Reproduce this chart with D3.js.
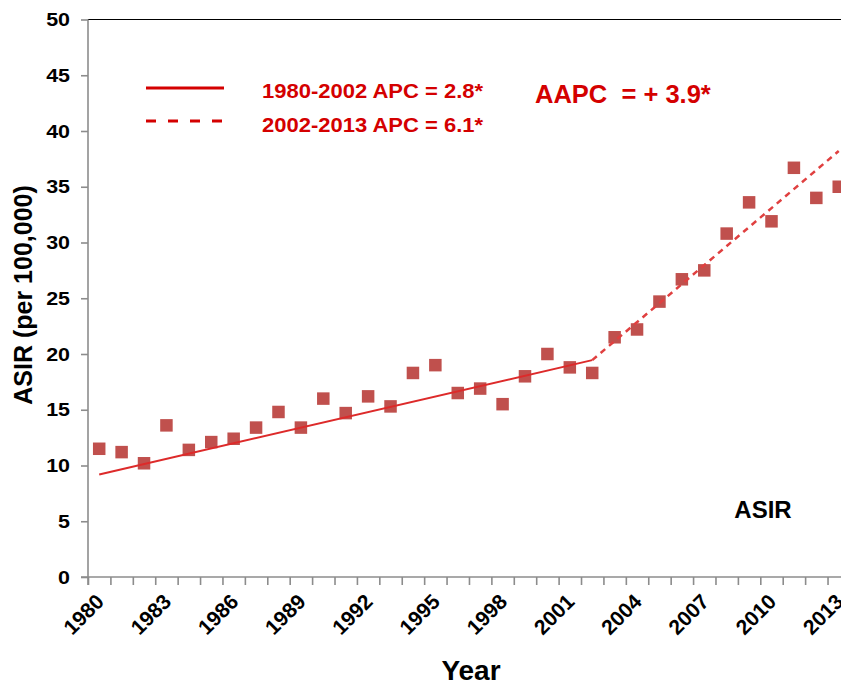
<!DOCTYPE html>
<html>
<head>
<meta charset="utf-8">
<script src="https://cdn.jsdelivr.net/npm/d3@7"></script>
<style>
  html, body { margin: 0; padding: 0; background: #fff; }
  svg { display: block; font-family: "Liberation Sans", Arial, sans-serif; }
</style>
</head>
<body>
<svg id="chart" width="841" height="684"></svg>
<script>
// ---- data ----
const years = [1980, 1981, 1982, 1983, 1984, 1985, 1986, 1987, 1988, 1989,
               1990, 1991, 1992, 1993, 1994, 1995, 1996, 1997, 1998, 1999,
               2000, 2001, 2002, 2003, 2004, 2005, 2006, 2007, 2008, 2009,
               2010, 2011, 2012, 2013];
const asir = [11.5, 11.2, 10.2, 13.6, 11.4, 12.1, 12.4, 13.4, 14.8, 13.4,
              16.0, 14.7, 16.2, 15.3, 18.3, 19.0, 16.5, 16.9, 15.5, 18.0,
              20.0, 18.8, 18.3, 21.5, 22.2, 24.7, 26.7, 27.5, 30.8, 33.6,
              31.9, 36.7, 34.0, 35.0];
const trend1Years = [1980, 2002];
const trend1Values = [9.2, 19.45];
const trend2Years = [2002, 2013];
const trend2Values = [19.45, 38.2];
const xTickLabels = [1980, 1983, 1986, 1989, 1992, 1995, 1998, 2001, 2004, 2007, 2010, 2013];
const yTicks = [0, 5, 10, 15, 20, 25, 30, 35, 40, 45, 50];
const legendLabels = ["1980-2002 APC = 2.8*", "2002-2013 APC = 6.1*"];
const aapcLabel = "AAPC  = + 3.9*";

(function () {
// ---- layout ----
const svg = d3.select("#chart");
const mLeft = 88, mTop = 19.5, mBottom = 577;
const step = 22.41;
const mRight = mLeft + step * years.length;

const x = d3.scaleLinear().domain([years[0] - 0.5, years[years.length - 1] + 0.5]).range([mLeft, mRight]);
const y = d3.scaleLinear().domain([0, 50]).range([mBottom, mTop]);

const axisColor = "#8c8c8c";

// top border
svg.append("line").attr("x1", mLeft).attr("x2", mRight).attr("y1", mTop).attr("y2", mTop)
  .attr("stroke", "#000").attr("stroke-width", 1.2);

// y axis
const ySx = 1.13;
const yAxis = d3.axisLeft(y).tickValues(yTicks).tickSize(7).tickPadding(11).tickFormat(d3.format("d"));
const gy = svg.append("g").attr("transform", `translate(${mLeft},0)`).call(yAxis);
gy.select(".domain").attr("stroke", axisColor).attr("stroke-width", 1.6)
  .attr("d", `M0,${mTop}V${mBottom + 8}`);
gy.selectAll(".tick line").attr("stroke", axisColor).attr("stroke-width", 1.6);
gy.selectAll(".tick text").attr("font-size", 19).attr("font-weight", "bold").attr("fill", "#000")
  .attr("font-family", "Liberation Sans, Arial, sans-serif")
  .attr("x", -18 / ySx).attr("transform", `scale(${ySx},1)`);

// x axis ticks at category boundaries
const boundaries = years.map(d => d - 0.5).concat([years[years.length - 1] + 0.5]);
const xAxis = d3.axisBottom(x).tickValues(boundaries).tickSize(8).tickFormat("");
const gx = svg.append("g").attr("transform", `translate(0,${mBottom})`).call(xAxis);
gx.select(".domain").attr("stroke", axisColor).attr("stroke-width", 1.6)
  .attr("d", `M${mLeft - 7},0H${mRight}`);
gx.selectAll(".tick line").attr("stroke", axisColor).attr("stroke-width", 1.6);

// x tick labels (rotated)
svg.append("g").selectAll("text").data(xTickLabels).join("text")
  .attr("transform", d => `translate(${x(d) + 6},${mBottom + 26}) rotate(-45)`)
  .attr("text-anchor", "end")
  .attr("font-size", 21).attr("font-weight", "bold").attr("fill", "#000")
  .text(d => d);

// markers
const sq = 12.5;
svg.append("g").selectAll("rect").data(years).join("rect")
  .attr("x", (d) => x(d) - sq / 2)
  .attr("y", (d, i) => y(asir[i]) - sq / 2)
  .attr("width", sq).attr("height", sq)
  .attr("fill", "#c0504d");

// trend lines
const line = d3.line().x(d => x(d[0])).y(d => y(d[1]));
svg.append("path").datum(trend1Years.map((d, i) => [d, trend1Values[i]]))
  .attr("d", line).attr("fill", "none").attr("stroke", "#dd2a2a").attr("stroke-width", 2);
svg.append("path").datum(trend2Years.map((d, i) => [d, trend2Values[i]]))
  .attr("d", line).attr("fill", "none").attr("stroke", "#e04040").attr("stroke-width", 2.5)
  .attr("stroke-dasharray", "6,5");

// legend
const legendRed = "#d40000";
svg.append("line").attr("x1", 146).attr("x2", 224).attr("y1", 88).attr("y2", 88)
  .attr("stroke", legendRed).attr("stroke-width", 3);
svg.append("line").attr("x1", 146).attr("x2", 226).attr("y1", 121).attr("y2", 121)
  .attr("stroke", legendRed).attr("stroke-width", 3).attr("stroke-dasharray", "10,12");
svg.append("g").selectAll("text").data(legendLabels).join("text")
  .attr("transform", (d, i) => `translate(262,${98 + i * 34}) scale(1.1,1)`)
  .attr("font-size", 20).attr("font-weight", "bold").attr("fill", legendRed)
  .text(d => d);

svg.append("text").attr("x", 535).attr("y", 103)
  .attr("font-size", 25.5).attr("font-weight", "bold").attr("fill", legendRed)
  .style("white-space", "pre").text(aapcLabel);

// ASIR label inside plot
svg.append("text").attr("x", 763).attr("y", 518).attr("text-anchor", "middle")
  .attr("font-size", 24).attr("font-weight", "bold").attr("fill", "#000").text("ASIR");

// axis titles
svg.append("text").attr("transform", "translate(32,295) rotate(-90)").attr("text-anchor", "middle")
  .attr("font-size", 25).attr("font-weight", "bold").attr("fill", "#000").text("ASIR (per 100,000)");
svg.append("text").attr("x", 471).attr("y", 680).attr("text-anchor", "middle")
  .attr("font-size", 28).attr("font-weight", "bold").attr("fill", "#000").text("Year");
})();
</script>
</body>
</html>
